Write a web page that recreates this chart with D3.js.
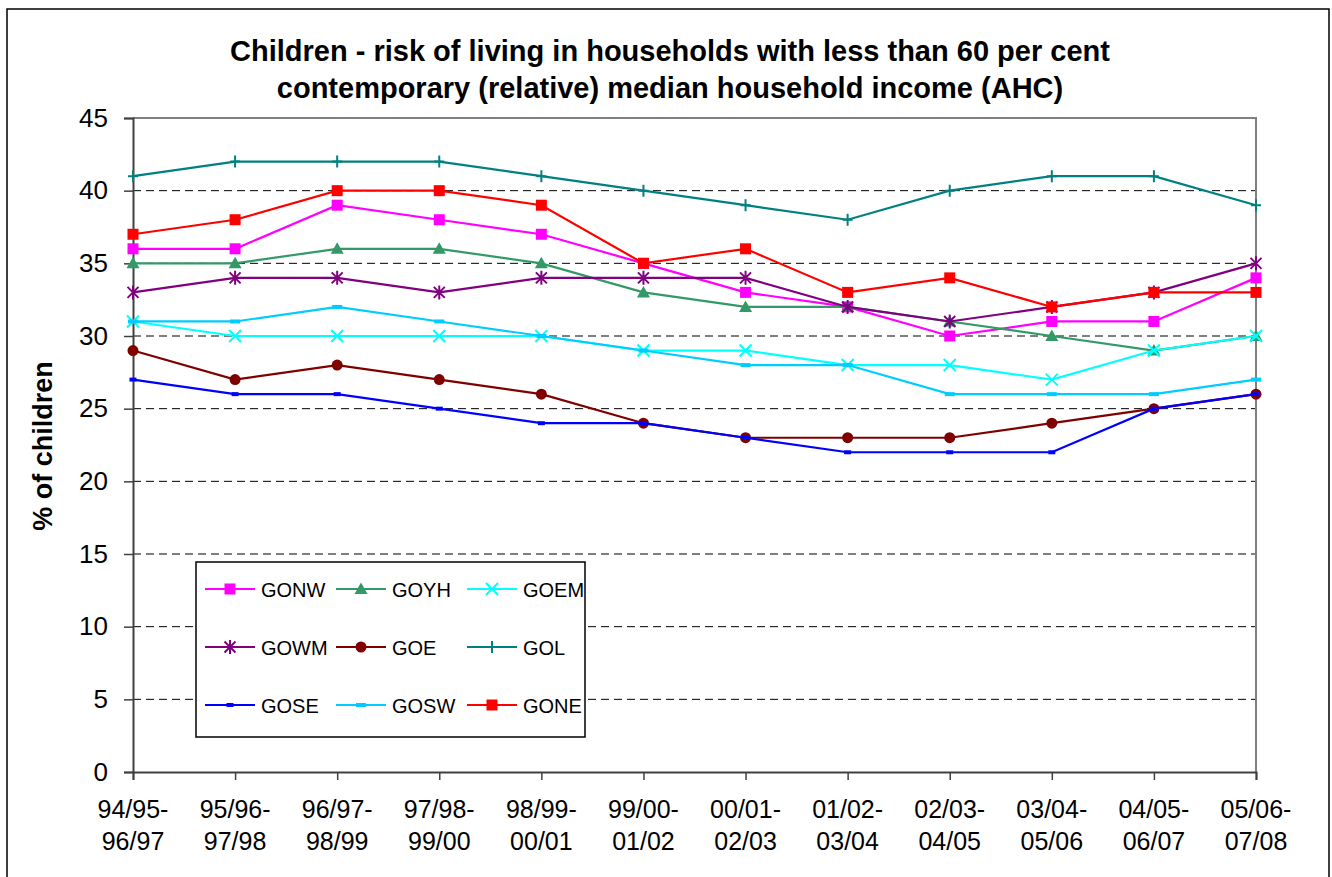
<!DOCTYPE html>
<html>
<head>
<meta charset="utf-8">
<script src="https://cdn.jsdelivr.net/npm/d3@7"></script>
<style>
  body { margin: 0; background: #fff; }
  svg { display: block; font-family: "Liberation Sans", Arial, sans-serif; }
</style>
</head>
<body>
<div id="chart"></div>
<script>
// chart size
const width = 1332;
const height = 877;

// categories (two-line labels)
const periods = [
    ["94/95-", "96/97"], ["95/96-", "97/98"], ["96/97-", "98/99"], ["97/98-", "99/00"],
    ["98/99-", "00/01"], ["99/00-", "01/02"], ["00/01-", "02/03"], ["01/02-", "03/04"],
    ["02/03-", "04/05"], ["03/04-", "05/06"], ["04/05-", "06/07"], ["05/06-", "07/08"]
];

// series values (% of children)
const GONW = [36, 36, 39, 38, 37, 35, 33, 32, 30, 31, 31, 34];
const GOYH = [35, 35, 36, 36, 35, 33, 32, 32, 31, 30, 29, 30];
const GOEM = [31, 30, 30, 30, 30, 29, 29, 28, 28, 27, 29, 30];
const GOWM = [33, 34, 34, 33, 34, 34, 34, 32, 31, 32, 33, 35];
const GOE  = [29, 27, 28, 27, 26, 24, 23, 23, 23, 24, 25, 26];
const GOL  = [41, 42, 42, 42, 41, 40, 39, 38, 40, 41, 41, 39];
const GOSE = [27, 26, 26, 25, 24, 24, 23, 22, 22, 22, 25, 26];
const GOSW = [31, 31, 32, 31, 30, 29, 28, 28, 26, 26, 26, 27];
const GONE = [37, 38, 40, 40, 39, 35, 36, 33, 34, 32, 33, 33];

const yTicks = [0, 5, 10, 15, 20, 25, 30, 35, 40, 45];

const seriesList = [
    { name: "GONW", values: GONW, color: "#ff00ff", marker: "square" },
    { name: "GOYH", values: GOYH, color: "#339966", marker: "triangle" },
    { name: "GOEM", values: GOEM, color: "#00ffff", marker: "x" },
    { name: "GOWM", values: GOWM, color: "#800080", marker: "star" },
    { name: "GOE",  values: GOE,  color: "#800000", marker: "circle" },
    { name: "GOL",  values: GOL,  color: "#008080", marker: "plus" },
    { name: "GOSE", values: GOSE, color: "#0000ff", marker: "dashSmall" },
    { name: "GOSW", values: GOSW, color: "#00ccff", marker: "dash" },
    { name: "GONE", values: GONE, color: "#ff0000", marker: "square" }
];

// plot area
const plot = { left: 133, right: 1256, top: 118, bottom: 772 };

const svg = d3.select("#chart")
    .append("svg")
    .attr("width", width)
    .attr("height", height);

// outer frame
svg.append("rect")
    .attr("x", 7).attr("y", 9)
    .attr("width", 1322).attr("height", 880)
    .attr("fill", "#fff")
    .attr("stroke", "#000")
    .attr("stroke-width", 1.5);

const x = d3.scalePoint()
    .domain(d3.range(periods.length))
    .range([plot.left, plot.right]);

const y = d3.scaleLinear()
    .domain([0, 45])
    .range([plot.bottom, plot.top]);

// title
const title = svg.append("text")
    .attr("text-anchor", "middle")
    .style("font-size", "29px")
    .style("font-weight", "bold")
    .attr("fill", "#000");
title.append("tspan").attr("x", 670).attr("y", 61)
    .text("Children - risk of living in households with less than 60 per cent");
title.append("tspan").attr("x", 670).attr("y", 98)
    .text("contemporary (relative) median household income (AHC)");

// gridlines (dashed)
svg.append("g")
    .selectAll("line")
    .data(yTicks.filter(d => d > 0 && d < 45))
    .enter()
    .append("line")
    .attr("x1", plot.left).attr("x2", plot.right)
    .attr("y1", d => y(d)).attr("y2", d => y(d))
    .attr("stroke", "#000")
    .attr("stroke-width", 1)
    .attr("stroke-dasharray", "8,5");

// top and right border of plot area
svg.append("path")
    .attr("d", `M${plot.left},${plot.top}H${plot.right}V${plot.bottom}`)
    .attr("fill", "none")
    .attr("stroke", "#808080")
    .attr("stroke-width", 2);

// y axis
const yAxis = d3.axisLeft(y)
    .tickValues(yTicks)
    .tickSize(9)
    .tickPadding(16);
const gy = svg.append("g")
    .attr("transform", `translate(${plot.left},0)`)
    .call(yAxis);
gy.select(".domain").attr("stroke", "#404040").attr("stroke-width", 2);
gy.selectAll(".tick line").attr("stroke", "#404040").attr("stroke-width", 1.5);
gy.selectAll(".tick text")
    .style("font-size", "26px")
    .style("font-family", "'Liberation Sans', Arial, sans-serif")
    .attr("fill", "#000");

// x axis
const xAxis = d3.axisBottom(x)
    .tickSize(8)
    .tickFormat("");
const gx = svg.append("g")
    .attr("transform", `translate(0,${plot.bottom})`)
    .call(xAxis);
gx.select(".domain").attr("stroke", "#404040").attr("stroke-width", 2);
gx.selectAll(".tick line").attr("stroke", "#404040").attr("stroke-width", 1.5);

const xLabels = svg.append("g")
    .selectAll("text")
    .data(periods)
    .enter()
    .append("text")
    .attr("text-anchor", "middle")
    .style("font-size", "25px")
    .attr("fill", "#000");
xLabels.append("tspan")
    .attr("x", (d, i) => x(i)).attr("y", 818)
    .text(d => d[0]);
xLabels.append("tspan")
    .attr("x", (d, i) => x(i)).attr("y", 850)
    .text(d => d[1]);

// y axis title
svg.append("text")
    .attr("transform", "translate(52,446) rotate(-90)")
    .attr("text-anchor", "middle")
    .style("font-size", "27px")
    .style("font-weight", "bold")
    .attr("fill", "#000")
    .text("% of children");

// marker drawing helper
function drawMarker(g, type, color) {
    switch (type) {
        case "square":
            g.append("rect").attr("x", -5.5).attr("y", -5.5).attr("width", 11).attr("height", 11)
                .attr("fill", color);
            break;
        case "triangle":
            g.append("path").attr("d", "M0,-6.5L6.5,5L-6.5,5Z").attr("fill", color);
            break;
        case "circle":
            g.append("circle").attr("r", 5.5).attr("fill", color);
            break;
        case "x":
            g.append("path").attr("d", "M-6,-6L6,6M-6,6L6,-6")
                .attr("stroke", color).attr("stroke-width", 2);
            break;
        case "star":
            g.append("path").attr("d", "M-5.5,-5.5L5.5,5.5M-5.5,5.5L5.5,-5.5M0,-7V7")
                .attr("stroke", color).attr("stroke-width", 2);
            break;
        case "plus":
            g.append("path").attr("d", "M-5,0H5M0,-6V6")
                .attr("stroke", color).attr("stroke-width", 2);
            break;
        case "dash":
            g.append("rect").attr("x", -5).attr("y", -2).attr("width", 10).attr("height", 4)
                .attr("fill", color);
            break;
        case "dashSmall":
            g.append("rect").attr("x", -3.5).attr("y", -2).attr("width", 7).attr("height", 4)
                .attr("fill", color);
            break;
    }
}

// series lines and markers
const line = d3.line()
    .x((d, i) => x(i))
    .y(d => y(d));

seriesList.forEach(s => {
    const g = svg.append("g").attr("class", "series");
    g.append("path")
        .attr("d", line(s.values))
        .attr("fill", "none")
        .attr("stroke", s.color)
        .attr("stroke-width", 2.2);
    s.values.forEach((v, i) => {
        const m = g.append("g").attr("transform", `translate(${x(i)},${y(v)})`);
        drawMarker(m, s.marker, s.color);
    });
});

// legend
const legend = svg.append("g").attr("class", "legend");
legend.append("rect")
    .attr("x", 196).attr("y", 562)
    .attr("width", 389).attr("height", 175)
    .attr("fill", "#fff")
    .attr("stroke", "#000")
    .attr("stroke-width", 1.5);

const colX = [205, 336, 467];
const rowY = [589, 647, 705];

seriesList.forEach((s, i) => {
    const lx = colX[i % 3];
    const ly = rowY[Math.floor(i / 3)];
    const item = legend.append("g");
    item.append("line")
        .attr("x1", lx).attr("x2", lx + 50)
        .attr("y1", ly).attr("y2", ly)
        .attr("stroke", s.color)
        .attr("stroke-width", 2.2);
    const m = item.append("g").attr("transform", `translate(${lx + 25},${ly})`);
    drawMarker(m, s.marker, s.color);
    item.append("text")
        .attr("x", lx + 56).attr("y", ly + 8)
        .style("font-size", "20px")
        .attr("fill", "#000")
        .text(s.name);
});
</script>
</body>
</html>
